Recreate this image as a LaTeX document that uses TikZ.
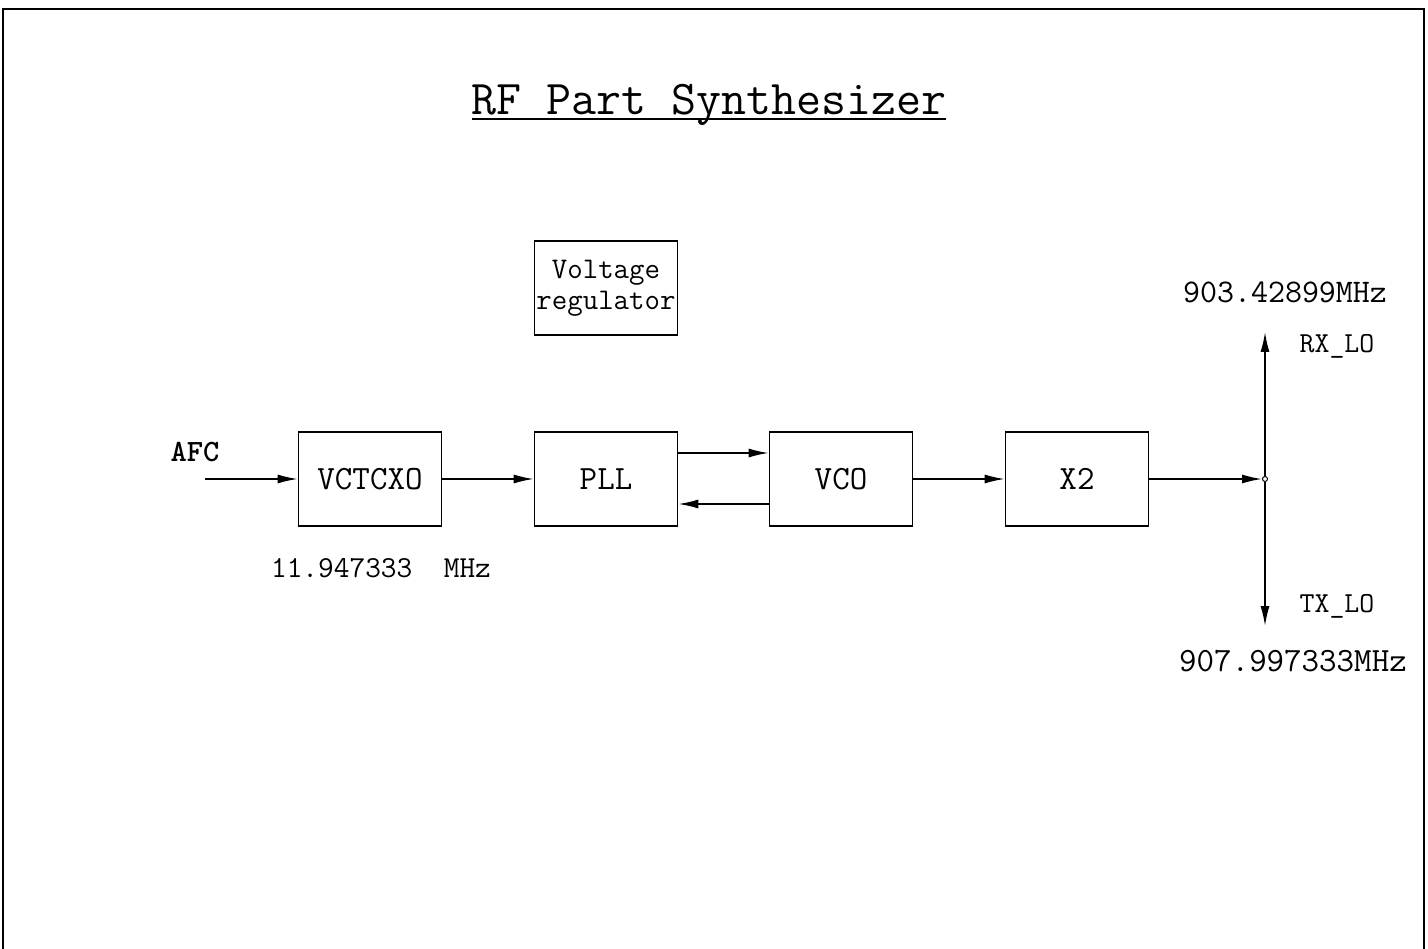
\documentclass[tikz,border=0pt]{standalone}
\usepackage{fontspec}
\usetikzlibrary{arrows.meta}
\begin{document}
\begin{tikzpicture}[x=1pt,y=-1pt,
  every node/.style={font=\ttfamily},
  blk/.style={draw, line width=1.6pt, minimum width=143pt, minimum height=94pt, inner sep=0pt, font=\ttfamily\fontsize{34}{36}\selectfont},
  lbl/.style={inner sep=0pt},
  wire/.style={line width=1.6pt},
  arr/.style={line width=1.6pt, -{Latex[length=20pt,width=9pt]}}]
\useasboundingbox (0,0) rectangle (1428,949);
% frame
\draw[line width=1.8pt] (3,949) -- (3,9) -- (1424,9) -- (1424,949);
% title
\node[lbl, anchor=base, font=\ttfamily\fontsize{48.5}{50}\selectfont] (title) at (709,115) {RF Part Synthesizer};
\draw[line width=1.6pt] ([yshift=-4pt]title.base west) -- ([yshift=-4pt]title.base east);
% blocks
\node[blk, font=\ttfamily\fontsize{30}{31}\selectfont, align=center] (vreg) at (606,288) {Voltage\\regulator};
\node[blk] (vctcxo) at (370,479) {VCTCXO};
\node[blk] (pll) at (606,479) {PLL};
\node[blk] (vco) at (841,479) {VCO};
\node[blk] (x2) at (1077,479) {X2};
% labels
\node[lbl, font=\ttfamily\bfseries\fontsize{31}{33}\selectfont] (afc) at (195,452) {AFC};
\node[lbl, font=\ttfamily\fontsize{30.5}{32}\selectfont] (freq1) at (381,568) {11.947333\ \ MHz};
\node[lbl, font=\ttfamily\fontsize{33}{35}\selectfont] (rxf) at (1285,292) {903.42899MHz};
\node[lbl, font=\ttfamily\fontsize{29}{31}\selectfont] (rx) at (1337,346) {RX\_LO};
\node[lbl, font=\ttfamily\fontsize{29}{31}\selectfont] (tx) at (1337,606) {TX\_LO};
\node[lbl, font=\ttfamily\fontsize{34}{36}\selectfont] (txf) at (1293,661) {907.997333MHz};
% connectors
\coordinate (afcin) at (205,479);
\draw[arr] (afcin) -- (vctcxo.west);
\draw[arr] (vctcxo.east) -- (pll.west);
\draw[arr] ([yshift=26pt]pll.east) -- ([yshift=26pt]vco.west);
\draw[arr] ([yshift=-25pt]vco.west) -- ([yshift=-25pt]pll.east);
\draw[arr] (vco.east) -- (x2.west);
\node[circle, draw, line width=1pt, inner sep=0pt, minimum size=5pt] (j) at (1265,479) {};
\draw[arr] (x2.east) -- (j.west);
\coordinate (rxend) at (1265,332);
\coordinate (txend) at (1265,626);
\draw[arr] (j.north) -- (rxend);
\draw[arr] (j.south) -- (txend);
\end{tikzpicture}
\end{document}
